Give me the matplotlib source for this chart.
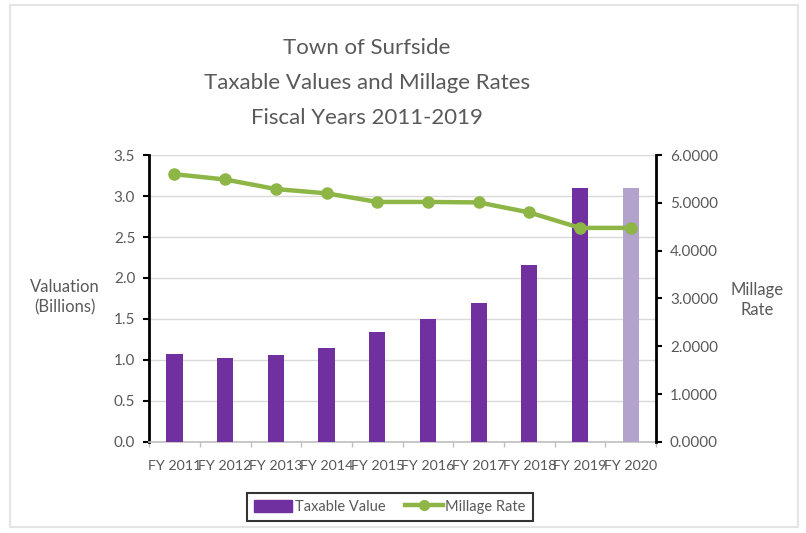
import matplotlib
matplotlib.use("Agg")
import matplotlib.pyplot as plt
from matplotlib.patches import Rectangle
from matplotlib.lines import Line2D
from matplotlib.patches import Patch

categories = ["FY 2011", "FY 2012", "FY 2013", "FY 2014", "FY 2015",
              "FY 2016", "FY 2017", "FY 2018", "FY 2019", "FY 2020"]
taxable_value = [1.067, 1.018, 1.055, 1.14, 1.336, 1.50, 1.69, 2.157, 3.094, 3.094]
millage_rate = [5.60, 5.49, 5.29, 5.20, 5.02, 5.02, 5.01, 4.80, 4.477, 4.477]
left_ticks = [0.0, 0.5, 1.0, 1.5, 2.0, 2.5, 3.0, 3.5]
right_ticks = [0, 1, 2, 3, 4, 5, 6]

plt.rcParams['font.family'] = ['Lato', 'DejaVu Sans']
txt = '#595959'
purple = '#7030A0'
lavender = '#B3A2CC'
green = '#8DB646'

fig = plt.figure(figsize=(8.06, 5.33), dpi=100)
fig.patches.append(Rectangle((10/806, 6/533), 788/806, 522/533, transform=fig.transFigure,
                             fill=False, edgecolor='#e4e4e4', lw=1.5))

ax = fig.add_axes([0.185, 0.171, 0.629, 0.538])
x = list(range(len(categories)))
colors = [purple]*9 + [lavender]
ax.bar(x, taxable_value, width=0.32, color=colors, zorder=3)
ax.set_ylim(0, 3.5)
ax.set_xlim(-0.5, 9.5)
ax.set_yticks(left_ticks)
ax.set_yticklabels([f"{v:.1f}" for v in left_ticks], color=txt, fontsize=11)
ax.set_xticks(x)
ax.set_xticklabels(categories, color=txt, fontsize=10.3)
ax.set_xticks([i - 0.5 for i in range(11)], minor=True)
ax.tick_params(axis='x', which='major', length=0, pad=13)
ax.tick_params(axis='x', which='minor', length=3.5, color='#bfbfbf', width=1)
ax.tick_params(axis='y', length=4, width=1.5, color='black', pad=6)
ax.grid(axis='y', color='#d9d9d9', lw=1, zorder=0)
for s in ['top', 'right']:
    ax.spines[s].set_visible(False)
ax.spines['left'].set_linewidth(2)
ax.spines['left'].set_color('black')
ax.spines['bottom'].set_color('#bfbfbf')
ax.spines['bottom'].set_linewidth(1.2)

ax2 = ax.twinx()
ax2.plot(x, millage_rate, color=green, lw=3.2, marker='o', markersize=8, zorder=4)
ax2.set_ylim(0, 6)
ax2.set_yticks(right_ticks)
ax2.set_yticklabels([f"{v:.4f}" for v in right_ticks], color=txt, fontsize=11)
ax2.tick_params(axis='y', length=4, width=1.5, color='black', pad=6)
for s in ['top', 'left', 'bottom']:
    ax2.spines[s].set_visible(False)
ax2.spines['right'].set_linewidth(2)
ax2.spines['right'].set_color('black')

fig.text(0.455, 0.910, "Town of Surfside", ha='center', va='center', fontsize=16, color=txt)
fig.text(0.455, 0.845, "Taxable Values and Millage Rates", ha='center', va='center', fontsize=16, color=txt)
fig.text(0.455, 0.779, "Fiscal Years 2011-2019", ha='center', va='center', fontsize=16, color=txt)

fig.text(65/806, 1 - 297/533, "Valuation\n(Billions)", ha='center', va='center',
         fontsize=12, color=txt, linespacing=1.3)
fig.text(757/806, 1 - 300/533, "Millage\nRate", ha='center', va='center',
         fontsize=12, color=txt, linespacing=1.3)

handles = [Patch(facecolor=purple, edgecolor=purple),
           Line2D([0], [0], color=green, lw=3.2, marker='o', markersize=7)]
leg = fig.legend(handles, ["Taxable Value", "Millage Rate"], loc='center',
                 bbox_to_anchor=(390/806, 1 - 507/533), ncol=2, frameon=True,
                 fontsize=10.5, handlelength=2.6, handleheight=0.9, columnspacing=1.3,
                 handletextpad=0.2, fancybox=False, borderpad=0.5)
leg.get_frame().set_edgecolor('black')
leg.get_frame().set_linewidth(1.5)
for t in leg.get_texts():
    t.set_color(txt)

fig.savefig("out.png", dpi=100, facecolor='white')
